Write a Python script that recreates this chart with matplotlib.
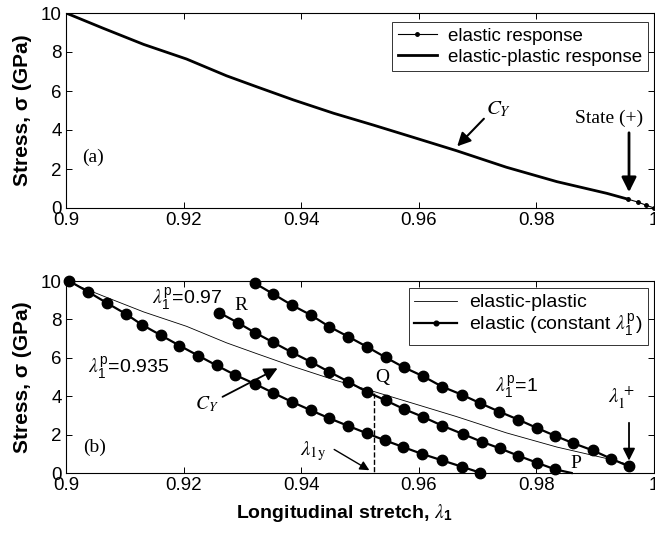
import matplotlib
matplotlib.use("Agg")
import matplotlib.pyplot as plt

plt.rcParams['font.family'] = ['Liberation Sans', 'DejaVu Sans']
plt.rcParams['mathtext.fontset'] = 'stix'

# ---------------- data ----------------
# elastic-plastic curve C_Y
cy_lam = [0.900, 0.9063, 0.9132, 0.9205, 0.9273, 0.9324, 0.9387, 0.9455, 0.9523,
          0.9591, 0.9664, 0.9749, 0.9835, 0.9920, 0.9956]
cy_sig = [10.0, 9.22, 8.39, 7.64, 6.78, 6.22, 5.54, 4.86, 4.25,
          3.62, 2.94, 2.09, 1.35, 0.75, 0.45]

# elastic response beyond state (+) (panel a)
el_lam = [0.9956, 0.9973, 0.9986, 1.0]
el_sig = [0.45, 0.30, 0.15, 0.0]

# elastic lines with constant plastic stretch (panel b)
l935_lam = [0.90056, 0.90379, 0.90692, 0.91015, 0.91287, 0.9161, 0.91927, 0.9225,
            0.92563, 0.92874, 0.93214, 0.93526, 0.93838, 0.94162, 0.94478, 0.94801,
            0.95114, 0.95425, 0.95736, 0.96049, 0.96395, 0.9673, 0.97041]
l935_sig = [10.0, 9.43, 8.86, 8.29, 7.73, 7.18, 6.64, 6.11, 5.60, 5.11, 4.64, 4.17,
            3.71, 3.27, 2.85, 2.45, 2.07, 1.70, 1.35, 1.00, 0.66, 0.33, 0.02]

l97_lam = [0.92607, 0.9292, 0.93214, 0.93526, 0.93838, 0.94162, 0.94478, 0.94801,
           0.95114, 0.95437, 0.95748, 0.96066, 0.96395, 0.96757, 0.97069, 0.97381,
           0.97692, 0.98005, 0.98316, 0.9860]
l97_sig = [8.35, 7.83, 7.31, 6.80, 6.29, 5.79, 5.27, 4.75, 4.23, 3.78, 3.33, 2.93,
           2.47, 2.02, 1.63, 1.28, 0.90, 0.54, 0.19, 0.0]

l1_lam = [0.93214, 0.93526, 0.93838, 0.94162, 0.94478, 0.94801, 0.95114, 0.95437,
          0.95748, 0.96066, 0.96395, 0.9673, 0.97041, 0.97372, 0.97692, 0.98005,
          0.98316, 0.98628, 0.98957, 0.99274, 0.99571]
l1_sig = [9.88, 9.32, 8.75, 8.23, 7.62, 7.10, 6.58, 6.02, 5.50, 5.05, 4.50, 4.08,
          3.64, 3.19, 2.78, 2.35, 1.94, 1.55, 1.18, 0.74, 0.35]

lam_1y = 0.9524
sig_1y = 4.15

xticks = [0.9, 0.92, 0.94, 0.96, 0.98, 1.0]
xticklabels = ['0.9', '0.92', '0.94', '0.96', '0.98', '1']
yticks = [0, 2, 4, 6, 8, 10]

LP = r'$\lambda_{\mathregular{1}}^{\mathregular{p}}$'

# ---------------- figure ----------------
W, H = 655, 535
fig = plt.figure(figsize=(W / 100, H / 100), dpi=100)
ax1 = fig.add_axes([66 / W, 1 - 208 / H, 588 / W, 195 / H])
ax2 = fig.add_axes([66 / W, 1 - 473 / H, 588 / W, 192 / H])

for ax in (ax1, ax2):
    ax.set_xlim(0.9, 1.0)
    ax.set_ylim(0, 10)
    ax.set_xticks(xticks)
    ax.set_xticklabels(xticklabels)
    ax.set_yticks(yticks)
    ax.tick_params(direction='in', top=True, right=True, length=4, width=0.7,
                   labelsize=13.5, pad=3)
    for s in ax.spines.values():
        s.set_linewidth(0.8)
    ax.set_ylabel('Stress, σ (GPa)', fontsize=15, fontweight='bold')
    ax.yaxis.set_label_coords(-0.057, 0.5)

# ---- panel (a) ----
ax1.plot(el_lam, el_sig, '-', color='k', lw=0.8, marker='o', ms=2.5,
         label='elastic response', clip_on=False)
ax1.plot(cy_lam, cy_sig, '-', color='k', lw=2.0, label='elastic-plastic response')
leg1 = ax1.legend(loc='upper right', bbox_to_anchor=(0.990, 0.954), fontsize=13.5,
                  frameon=True, fancybox=False, borderaxespad=0, handlelength=2.1,
                  labelspacing=0.2, borderpad=0.3, handletextpad=0.6)
leg1.get_frame().set_edgecolor('k')
leg1.get_frame().set_linewidth(0.7)

serif = ['Liberation Serif', 'DejaVu Serif']
ax1.text(0.9027, 2.62, '(a)', fontsize=14, family=serif, ha='left', va='center')
ax1.text(0.9715, 5.05, r'$C_Y$', fontsize=15, ha='left', va='center')
ax1.annotate('', xy=(0.9662, 3.06), xytext=(0.9714, 4.68),
             arrowprops=dict(arrowstyle='-|>', color='k', lw=1.5, mutation_scale=20))
ax1.text(0.9924, 4.62, 'State (+)', fontsize=14, family=serif, ha='center', va='center')
ax1.annotate('', xy=(0.99575, 0.67), xytext=(0.99575, 4.0),
             arrowprops=dict(arrowstyle='-|>', color='k', lw=2.0, mutation_scale=22))

# ---- panel (b) ----
ax2.plot(cy_lam, cy_sig, '-', color='k', lw=0.6, label='elastic-plastic')
ax2.plot(l935_lam, l935_sig, '-', color='k', lw=1.6, marker='o', ms=7.5,
         label='elastic (constant ' + LP + ')', clip_on=False, zorder=3)
ax2.plot(l97_lam, l97_sig, '-', color='k', lw=1.6, marker='o', ms=7.5,
         markevery=list(range(len(l97_lam) - 1)), clip_on=False, zorder=3)
ax2.plot(l1_lam, l1_sig, '-', color='k', lw=1.6, marker='o', ms=7.5,
         clip_on=False, zorder=3)
ax2.plot([lam_1y, lam_1y], [sig_1y, 0], '--', color='k', lw=1.0)

leg2 = ax2.legend(loc='upper right', bbox_to_anchor=(0.990, 0.964), fontsize=14,
                  frameon=True, fancybox=False, borderaxespad=0, handlelength=2.2,
                  labelspacing=0.0, borderpad=0.3, handletextpad=0.6, markerscale=0.45)
leg2.get_frame().set_edgecolor('k')
leg2.get_frame().set_linewidth(0.7)

ax2.text(0.9029, 1.35, '(b)', fontsize=14, family=serif, ha='left', va='center')
ax2.text(0.9037, 5.45, LP + '=0.935', fontsize=14, ha='left', va='center')
ax2.text(0.9146, 9.05, LP + '=0.97', fontsize=14, ha='left', va='center')
ax2.text(0.9287, 8.75, 'R', fontsize=14, family=serif, ha='left', va='center')
ax2.text(0.9537, 4.95, 'Q', fontsize=14, family=serif, ha='center', va='center')
ax2.text(0.9730, 4.45, LP + '=1', fontsize=14, ha='left', va='center')
ax2.text(0.9922, 3.9, r'$\lambda_1^{\,+}$', fontsize=15, ha='left', va='center')
ax2.annotate('', xy=(0.99575, 0.5), xytext=(0.99575, 2.76),
             arrowprops=dict(arrowstyle='-|>', color='k', lw=1.3, mutation_scale=18))
ax2.text(0.9867, 0.47, 'P', fontsize=14, family=serif, ha='center', va='center')
ax2.text(0.9240, 3.6, r'$C_Y$', fontsize=14, ha='center', va='center')
ax2.annotate('', xy=(0.9364, 5.52), xytext=(0.9262, 3.9),
             arrowprops=dict(arrowstyle='-|>', color='k', lw=1.3, mutation_scale=20))
ax2.text(0.9420, 1.1, r'$\lambda_{1\mathrm{y}}$', fontsize=15, ha='center', va='center')
ax2.annotate('', xy=(0.9520, 0.07), xytext=(0.9452, 1.3),
             arrowprops=dict(arrowstyle='-|>', color='k', lw=1.0, mutation_scale=14))

ax2.set_xlabel(r'Longitudinal stretch, $\lambda_{\mathregular{1}}$', fontsize=14,
               fontweight='bold')
ax2.xaxis.set_label_coords(0.473, -0.15)

fig.savefig('out.png', dpi=100)
